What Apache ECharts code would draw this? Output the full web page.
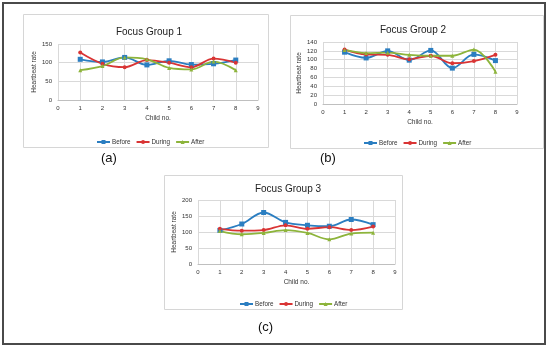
<!DOCTYPE html>
<html><head><meta charset="utf-8">
<script src="https://cdn.jsdelivr.net/npm/echarts@6/dist/echarts.min.js"></script>
<style>html,body{margin:0;padding:0;background:#fff}#c{width:550px;height:351px}</style>
</head><body><div id="c"></div>
<script>
var childNo = [1,2,3,4,5,6,7,8];
var seriesNames = ['Before','During','After'];
var g1Before = [109,102,114,94,105,95,97,107];
var g1During = [127,97,88,107,100,88,111,100];
var g1After  = [80,91,114,109,86,82,103,80];
var g2Before = [117,104,120,99,121,81,112,98];
var g2During = [123,112,111,101,109,92,97,111];
var g2After  = [122,115,116,111,109,109,123,73];
var g3Before = [105,125,161,130,121,118,139,123];
var g3During = [110,104,106,121,110,115,106,117];
var g3After  = [103,93,97,106,97,77,95,98];
var titles = ['Focus Group 1','Focus Group 2','Focus Group 3'];
var panelLabels = ['(a)','(b)','(c)'];
var yMax = [150,140,200];
var yStep = [50,20,50];

var colors = ['#2B7EC1','#D93434','#8DB43B'];
var symbols = ['rect','circle','triangle'];
var font = 'Liberation Sans, Arial, sans-serif';

var grids = [
  {left:58, right:292, top:44, bottom:251},
  {left:323, right:33, top:42, bottom:247},
  {left:198, right:155, top:200, bottom:87}
];
var titlePos = [[144,25],[408,23],[283,182]];
var legendPos = [[91,134],[358,135],[234,296]];
var labelPos = [[110,160],[329,160],[267,329]];
var boxes = [[23,14,245,133],[290,15,253,133],[164,175,238,134]];

var data = [[g1Before,g1During,g1After],[g2Before,g2During,g2After],[g3Before,g3During,g3After]];

var option = {animation:false, title:[], grid:[], xAxis:[], yAxis:[], legend:[], series:[], graphic:[]};
option.graphic.push({type:'rect', shape:{x:3,y:3,width:542,height:341}, style:{fill:'none', stroke:'#4a4a4a', lineWidth:2}, z:-10});
for (var i=0;i<3;i++){
  var b = boxes[i];
  option.graphic.push({type:'rect', shape:{x:b[0]+0.5,y:b[1]+0.5,width:b[2],height:b[3]}, style:{fill:'#fff', stroke:'#d6d6d6', lineWidth:1}, z:-5});
  option.graphic.push({type:'text', left:labelPos[i][0]-9, top:labelPos[i][1]-8, style:{text:panelLabels[i], fontSize:13, fontFamily:font, fill:'#111'}});
  option.title.push({text:titles[i], left:titlePos[i][0], top:titlePos[i][1]-3, textAlign:'center',
    textStyle:{fontSize:10, fontWeight:'normal', color:'#222', fontFamily:font}});
  option.grid.push(grids[i]);
  option.xAxis.push({type:'value', gridIndex:i, min:0, max:9, interval:1,
    name:'Child no.', nameLocation:'middle', nameGap:15, nameTextStyle:{fontSize:6.5, color:'#333', fontFamily:font},
    axisLine:{lineStyle:{color:'#bfbfbf'}}, axisTick:{show:false},
    axisLabel:{fontSize:6, color:'#333', margin:5, fontFamily:font},
    splitLine:{show:true, lineStyle:{color:'#d9d9d9', width:1}}});
  option.yAxis.push({type:'value', gridIndex:i, min:0, max:yMax[i], interval:yStep[i],
    name:'Heartbeat rate', nameLocation:'middle', nameGap:18, nameTextStyle:{fontSize:6.5, color:'#333', fontFamily:font},
    axisLine:{show:false}, axisTick:{show:false},
    axisLabel:{fontSize:6, color:'#333', margin:6, fontFamily:font},
    splitLine:{show:true, lineStyle:{color:'#d9d9d9', width:1}}});
  option.legend.push({data:seriesNames.slice(), left:legendPos[i][0], top:legendPos[i][1], itemWidth:13, itemHeight:5, itemGap:5,
    textStyle:{fontSize:6.3, color:'#333', fontFamily:font, padding:[0,0,0,-3]}, selectedMode:false});
  for (var s=0;s<3;s++){
    var pts = childNo.map(function(x,k){return [x, data[i][s][k]];});
    option.series.push({name:seriesNames[s], type:'line', xAxisIndex:i, yAxisIndex:i, data:pts, smooth:0.35,
      symbol:symbols[s], symbolSize:s===0?5:4, showSymbol:true,
      lineStyle:{color:colors[s], width:1.8}, itemStyle:{color:colors[s]}});
  }
}
var chart = echarts.init(document.getElementById('c'), null, {renderer:'canvas'});
chart.setOption(option);
</script></body></html>
